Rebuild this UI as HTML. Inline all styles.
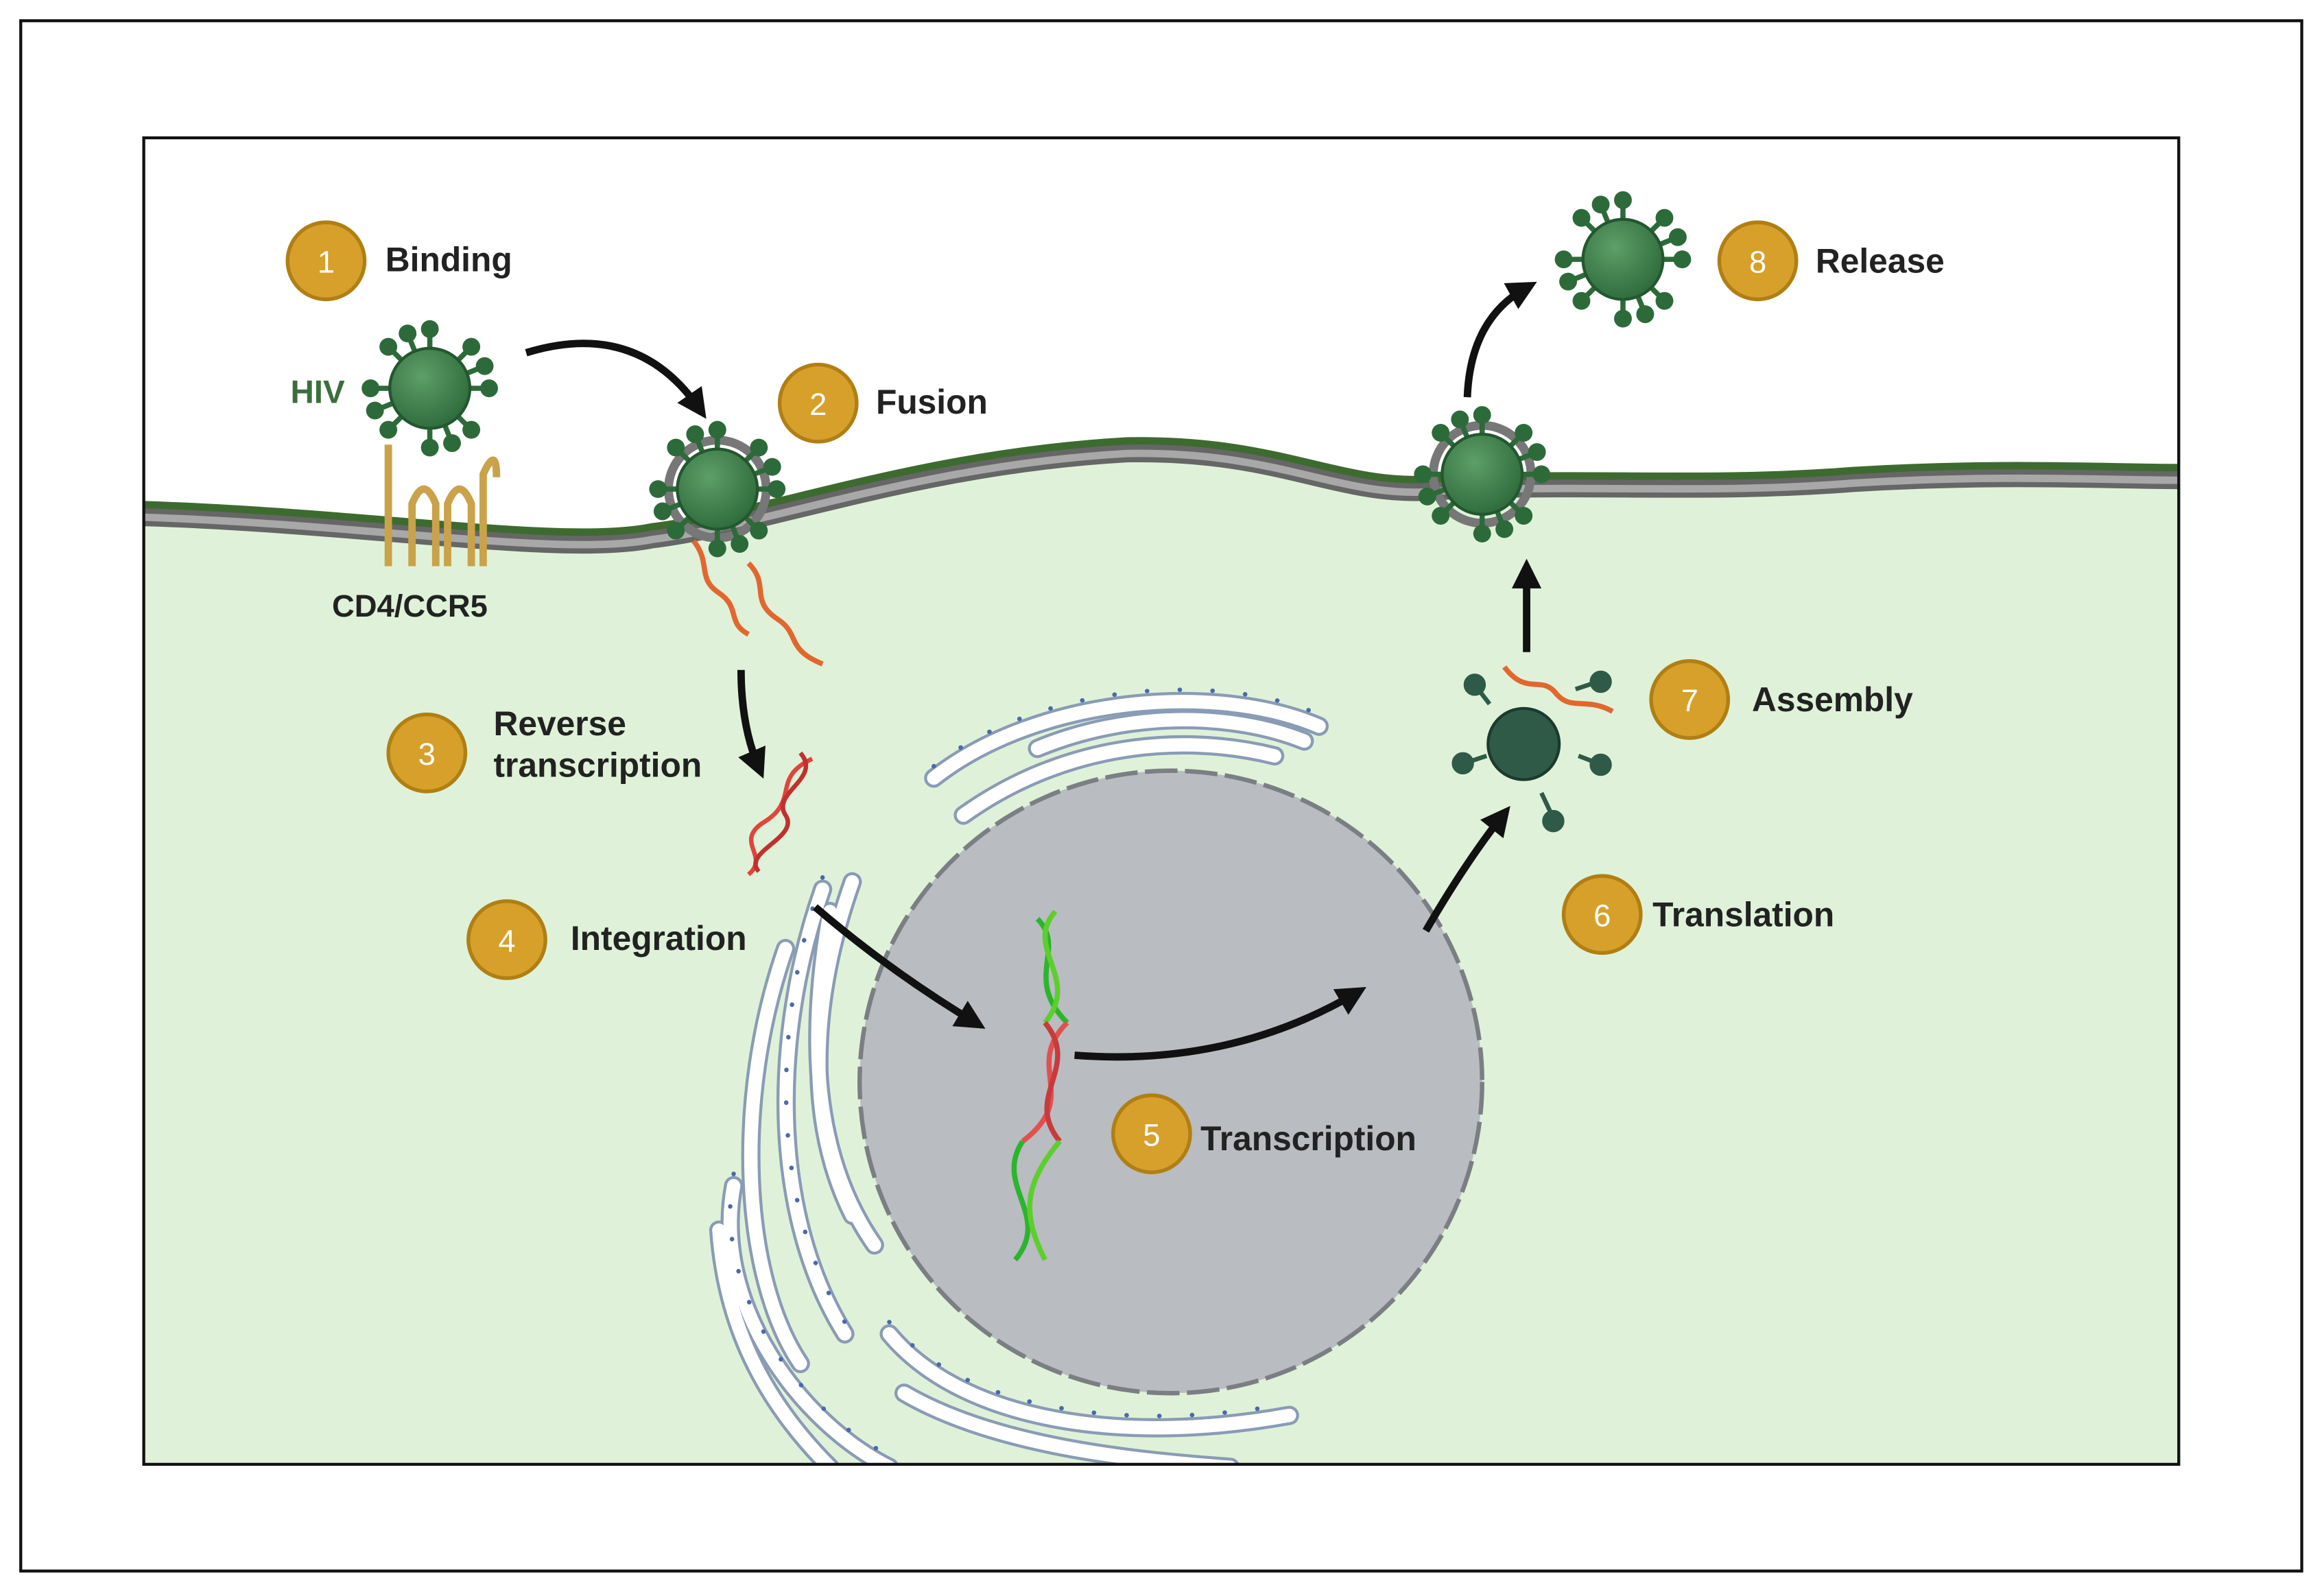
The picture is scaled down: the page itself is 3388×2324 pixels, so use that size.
<!DOCTYPE html>
<html><head><meta charset="utf-8"><style>
html,body{margin:0;padding:0;background:#fff;}
svg{display:block;}
text{font-family:"Liberation Sans",sans-serif;font-weight:bold;}
</style></head><body>
<svg width="3388" height="2324" viewBox="0 0 1568 1075.5" preserveAspectRatio="none" xmlns="http://www.w3.org/2000/svg">
<defs>
<clipPath id="pc"><rect x="97" y="93" width="1373" height="895"/></clipPath>
<marker id="ah" viewBox="0 0 10 10" refX="6" refY="5" markerWidth="4" markerHeight="4" orient="auto"><path d="M0,0 L10,5 L0,10 z" fill="#111"/></marker>
<radialGradient id="vg" cx="40%" cy="35%" r="70%"><stop offset="0" stop-color="#5e9e68"/><stop offset="1" stop-color="#2c6a3a"/></radialGradient>
<g id="virus">
<g stroke="#2d6a3a" stroke-width="3.5">
<line x1="0" y1="0" x2="0" y2="-40"/><line x1="0" y1="0" x2="0" y2="40"/><line x1="0" y1="0" x2="40" y2="0"/><line x1="0" y1="0" x2="-40" y2="0"/>
<line x1="0" y1="0" x2="28" y2="28"/><line x1="0" y1="0" x2="-28" y2="28"/><line x1="0" y1="0" x2="28" y2="-28"/><line x1="0" y1="0" x2="-28" y2="-28"/>
<line x1="0" y1="0" x2="15" y2="37"/><line x1="0" y1="0" x2="-15" y2="-37"/><line x1="0" y1="0" x2="37" y2="-15"/><line x1="0" y1="0" x2="-37" y2="15"/>
</g>
<g fill="#2d6a3a">
<circle cx="0" cy="-40" r="6"/><circle cx="0" cy="40" r="6"/><circle cx="40" cy="0" r="6"/><circle cx="-40" cy="0" r="6"/>
<circle cx="28" cy="28" r="6"/><circle cx="-28" cy="28" r="6"/><circle cx="28" cy="-28" r="6"/><circle cx="-28" cy="-28" r="6"/>
<circle cx="15" cy="37" r="6"/><circle cx="-15" cy="-37" r="6"/><circle cx="37" cy="-15" r="6"/><circle cx="-37" cy="15" r="6"/>
</g>
<circle cx="0" cy="0" r="27" fill="url(#vg)" stroke="#24572f" stroke-width="2"/>
</g>
<g id="badge"><circle r="26" fill="#d6a02a" stroke="#b07f14" stroke-width="2.5"/></g>
</defs>
<rect x="0" y="0" width="1568" height="1076" fill="#fff"/>
<rect x="14" y="14" width="1539" height="1046" fill="none" stroke="#111" stroke-width="2"/>
<rect x="97" y="93" width="1373" height="895" fill="#fff"/>
<path d="M97,345 C250,350 380,372 440,360 C520,350 620,310 760,302 C860,300 900,330 960,328 C1060,322 1150,330 1250,322 C1350,316 1420,320 1470,320 L1470,988 L97,988 Z" fill="#dff2d9"/>
<path d="M97,345 C250,350 380,372 440,360 C520,350 620,310 760,302 C860,300 900,330 960,328 C1060,322 1150,330 1250,322 C1350,316 1420,320 1470,320" fill="none" stroke="#3d6b2f" stroke-width="14"/>
<path d="M97,349 C250,354 380,376 440,364 C520,354 620,314 760,306 C860,304 900,334 960,332 C1060,326 1150,334 1250,326 C1350,320 1420,324 1470,324" fill="none" stroke="#666" stroke-width="12"/>
<path d="M97,349 C250,354 380,376 440,364 C520,354 620,314 760,306 C860,304 900,334 960,332 C1060,326 1150,334 1250,326 C1350,320 1420,324 1470,324" fill="none" stroke="#a8a8a8" stroke-width="5"/>
<!-- ER -->
<g fill="none" stroke-linecap="round" clip-path="url(#pc)">
<g stroke="#8a9bb5" stroke-width="13">
<path d="M630,525 C700,470 820,460 890,490"/><path d="M650,550 C720,500 800,495 860,510"/><path d="M700,505 C760,480 830,480 880,500"/>
<path d="M555,600 C520,700 520,820 570,900"/><path d="M530,640 C495,740 500,860 540,920"/><path d="M575,595 C545,680 545,760 575,820"/>
<path d="M495,800 C480,880 540,960 600,990"/><path d="M600,900 C650,960 760,975 870,955"/>
<path d="M610,940 C670,975 760,985 830,990"/><path d="M560,615 C545,700 548,780 590,840"/><path d="M485,830 C490,900 520,950 560,990"/>
</g>
<g stroke="#fff" stroke-width="9">
<path d="M630,525 C700,470 820,460 890,490"/><path d="M650,550 C720,500 800,495 860,510"/><path d="M700,505 C760,480 830,480 880,500"/>
<path d="M555,600 C520,700 520,820 570,900"/><path d="M530,640 C495,740 500,860 540,920"/><path d="M575,595 C545,680 545,760 575,820"/>
<path d="M495,800 C480,880 540,960 600,990"/><path d="M600,900 C650,960 760,975 870,955"/>
<path d="M610,940 C670,975 760,985 830,990"/><path d="M560,615 C545,700 548,780 590,840"/><path d="M485,830 C490,900 520,950 560,990"/>
</g>
<g stroke="#4a6aa8" stroke-width="3" stroke-dasharray="0.1 22" transform="translate(0,-8)">
<path d="M630,525 C700,470 820,460 890,490"/><path d="M555,600 C520,700 520,820 570,900"/><path d="M495,800 C480,880 540,960 600,990"/><path d="M600,900 C650,960 760,975 870,955"/>
</g>
</g>
<circle cx="790" cy="730" r="210" fill="#b9bcc1" stroke="#7b7e83" stroke-width="3" stroke-dasharray="22 5"/>
<rect x="97" y="93" width="1373" height="895" fill="none" stroke="#111" stroke-width="2"/>
<g stroke="#c9a24a" stroke-width="5" fill="none">
<line x1="262" y1="300" x2="262" y2="382"/>
<path d="M278,382 L278,340 Q286,320 294,340 L294,382 M302,382 L302,340 Q310,320 318,340 L318,382 M326,382 L326,320 Q335,300 335,322"/>
</g>
<use href="#virus" x="290" y="262"/>
<circle cx="484" cy="330" r="33" fill="none" stroke="#777" stroke-width="6"/>
<use href="#virus" x="484" y="330"/>
<circle cx="1000" cy="320" r="33" fill="none" stroke="#777" stroke-width="6"/>
<use href="#virus" x="1000" y="320"/>
<use href="#virus" x="1095" y="175"/>
<g fill="none" stroke="#e2672e" stroke-width="3.5">
<path d="M468,365 C480,380 470,390 485,400 C500,410 490,420 505,428"/>
<path d="M505,380 C520,395 505,405 525,418 C540,428 530,438 555,448"/>
<path d="M1015,450 C1030,470 1040,455 1050,468 C1060,480 1070,470 1088,480"/>
</g>
<g fill="none" stroke-width="3">
<path d="M548,512 C520,525 540,540 515,555 C495,568 520,578 505,590" stroke="#e0453c"/>
<path d="M540,508 C555,525 520,535 530,550 C540,565 500,575 512,588" stroke="#c23030"/>
</g>
<g fill="none" stroke-width="3.5">
<path d="M700,620 C720,640 690,660 720,690" stroke="#2bb52b"/>
<path d="M712,615 C690,640 730,660 705,690" stroke="#5ccf2c"/>
<path d="M720,690 C690,720 730,740 690,770" stroke="#e15050"/>
<path d="M705,690 C730,720 690,740 715,770" stroke="#c73b3b"/>
<path d="M690,770 C670,800 710,820 685,850" stroke="#2bb52b"/>
<path d="M715,770 C690,800 690,820 705,850" stroke="#5ccf2c"/>
</g>
<circle cx="1028" cy="502" r="24" fill="#2f5a48" stroke="#1d3a2e" stroke-width="2"/>
<g stroke="#2f5a48" stroke-width="3" fill="#2f5a48">
<line x1="1005" y1="475" x2="995" y2="462"/><circle cx="995" cy="462" r="6"/>
<line x1="1063" y1="465" x2="1078" y2="460"/><circle cx="1080" cy="460" r="6"/>
<line x1="1003" y1="510" x2="988" y2="515"/><circle cx="987" cy="515" r="6"/>
<line x1="1065" y1="510" x2="1078" y2="515"/><circle cx="1080" cy="516" r="6"/>
<line x1="1040" y1="535" x2="1048" y2="552"/><circle cx="1048" cy="554" r="6"/>
</g>
<g fill="none" stroke="#111" stroke-width="5" marker-end="url(#ah)">
<path d="M355,238 Q430,215 472,276"/>
<path d="M500,452 Q500,490 512,518"/>
<path d="M550,612 Q600,655 658,690"/>
<path d="M725,712 Q830,720 915,670"/>
<path d="M962,628 Q990,580 1014,550"/>
<path d="M1030,440 L1030,385"/>
<path d="M990,268 Q992,215 1030,194"/>
</g>
<g font-size="21" text-anchor="middle">
<use href="#badge" x="220" y="176"/><text x="220" y="184" fill="#fff" style="font-weight:normal">1</text>
<use href="#badge" x="552" y="272"/><text x="552" y="280" fill="#fff" style="font-weight:normal">2</text>
<use href="#badge" x="288" y="508"/><text x="288" y="516" fill="#fff" style="font-weight:normal">3</text>
<use href="#badge" x="342" y="634"/><text x="342" y="642" fill="#fff" style="font-weight:normal">4</text>
<use href="#badge" x="777" y="765"/><text x="777" y="773" fill="#fff" style="font-weight:normal">5</text>
<use href="#badge" x="1081" y="617"/><text x="1081" y="625" fill="#fff" style="font-weight:normal">6</text>
<use href="#badge" x="1140" y="472"/><text x="1140" y="480" fill="#fff" style="font-weight:normal">7</text>
<use href="#badge" x="1186" y="176"/><text x="1186" y="184" fill="#fff" style="font-weight:normal">8</text>
</g>
<g font-size="23" fill="#222">
<text x="260" y="183">Binding</text>
<text x="591" y="279">Fusion</text>
<text x="333" y="496">Reverse</text>
<text x="333" y="524">transcription</text>
<text x="385" y="641">Integration</text>
<text x="810" y="776">Transcription</text>
<text x="1115" y="625">Translation</text>
<text x="1182" y="480">Assembly</text>
<text x="1225" y="184">Release</text>
<text x="224" y="416" font-size="21">CD4/CCR5</text>
<text x="196" y="272" font-size="22" fill="#3c6e3c">HIV</text>
</g>
</svg>
</body></html>
